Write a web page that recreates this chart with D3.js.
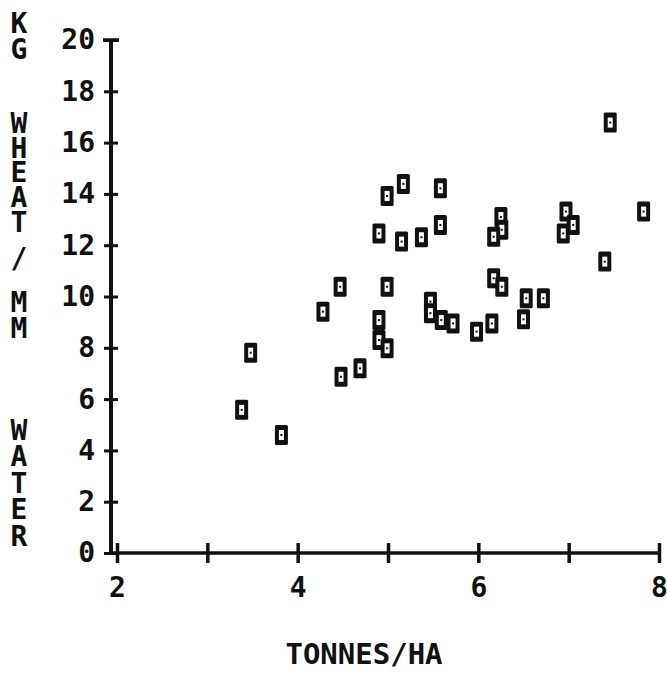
<!DOCTYPE html>
<html>
<head>
<meta charset="utf-8">
<script src="https://cdn.jsdelivr.net/npm/d3@7"></script>
<style>
  body { margin: 0; background: #fff; }
  text { font-family: "DejaVu Sans Mono", monospace; font-weight: bold; fill: #111; }
  .vtitle { writing-mode: vertical-rl; text-orientation: upright; }
</style>
</head>
<body>
<div id="chart"></div>
<script>
// tonnes/ha vs kg wheat / mm water
var xValues = [4.99, 5.17, 5.58, 4.90, 5.15, 5.37, 5.58, 4.47, 4.99, 4.28,
               5.47, 5.47, 5.59, 5.72, 4.90, 4.90, 4.99, 3.48, 4.69, 4.48,
               3.38, 3.82, 7.46, 6.25, 6.26, 6.17, 6.97, 7.05, 6.94, 7.83,
               7.40, 6.17, 6.26, 6.53, 6.72, 6.50, 6.15, 5.98];
var yValues = [13.92, 14.39, 14.22, 12.46, 12.14, 12.31, 12.79, 10.38, 10.38, 9.41,
               9.80, 9.35, 9.08, 8.95, 9.08, 8.30, 7.98, 7.81, 7.20, 6.87,
               5.58, 4.60, 16.78, 13.10, 12.60, 12.33, 13.31, 12.79, 12.46, 13.31,
               11.36, 10.71, 10.38, 9.93, 9.93, 9.11, 8.95, 8.63];
var xTicks = [2, 3, 4, 5, 6, 7, 8];
var xTickLabels = ["2", "", "4", "", "6", "", "8"];
var yTicks = [0, 2, 4, 6, 8, 10, 12, 14, 16, 18, 20];
// y title pieces: "KG  WHEAT/MM  WATER", stacked
var yTitleParts = ["KG", "WHEAT", "/", "MM", "WATER"];
var yTitleFirst = [21, 121, 256, 300, 428]; // centre of first letter
var yTitlePitch = [26, 24.3, 26, 26, 26];
var xTitle = "TONNES/HA";

var W = 667, H = 678;
var svg = d3.select("#chart").append("svg")
    .attr("width", W)
    .attr("height", H);

var x = d3.scaleLinear().domain([2, 8]).range([117, 659]);
var y = d3.scaleLinear().domain([0, 20]).range([553, 40]);
var axisX = 111; // where the vertical axis sits

// x axis
var gx = svg.append("g")
    .attr("transform", "translate(0," + y(0) + ")")
    .call(d3.axisBottom(x).tickValues(xTicks)
        .tickFormat(function(d, i) { return xTickLabels[i]; })
        .tickSize(10).tickPadding(14));
gx.select(".domain").remove();
gx.selectAll(".tick line")
    .attr("y1", -10).attr("y2", 10)
    .attr("stroke", "#111").attr("stroke-width", 3.5);
gx.selectAll(".tick text")
    .attr("font-size", 28).attr("fill", "#111")
    .style("font-family", "DejaVu Sans Mono").style("font-weight", "bold");

svg.append("line")
    .attr("x1", axisX).attr("x2", x(8))
    .attr("y1", y(0)).attr("y2", y(0))
    .attr("stroke", "#111").attr("stroke-width", 3.5);

// y axis
var gy = svg.append("g")
    .attr("transform", "translate(" + axisX + ",0)")
    .call(d3.axisLeft(y).tickValues(yTicks).tickSize(7).tickPadding(9));
gy.select(".domain").remove();
gy.selectAll(".tick line")
    .attr("x1", -7).attr("x2", 7)
    .attr("stroke", "#111").attr("stroke-width", 3);
gy.selectAll(".tick text")
    .attr("font-size", 28).attr("fill", "#111")
    .style("font-family", "DejaVu Sans Mono").style("font-weight", "bold");

svg.append("line")
    .attr("x1", axisX).attr("x2", axisX)
    .attr("y1", y(20)).attr("y2", y(0) + 2)
    .attr("stroke", "#111").attr("stroke-width", 4);
// cap at the top
svg.append("line")
    .attr("x1", axisX - 8).attr("x2", axisX + 8)
    .attr("y1", y(20)).attr("y2", y(20))
    .attr("stroke", "#111").attr("stroke-width", 3.5);

// axis titles
svg.append("text")
    .attr("x", 364).attr("y", 664)
    .attr("text-anchor", "middle")
    .attr("font-size", 29)
    .text(xTitle);

// vertical title, letters stacked upright
// natural vertical advance of the font at 28px is about 32.6px
svg.append("g").selectAll("text")
    .data(yTitleParts)
    .enter().append("text")
    .attr("class", "vtitle")
    .attr("x", 19)
    .attr("y", function(d, i) { return yTitleFirst[i] - 14; })
    .attr("font-size", 28)
    .style("letter-spacing", function(d, i) { return (yTitlePitch[i] - 32.6) + "px"; })
    .text(function(d) { return d; });

// points: thick boxes with a dot in the middle
var pts = svg.append("g").selectAll("g")
    .data(xValues.map(function(v, i) { return [v, yValues[i]]; }))
    .enter().append("g")
    .attr("transform", function(d) { return "translate(" + x(d[0]) + "," + y(d[1]) + ")"; });

pts.append("rect")
    .attr("x", -6.5).attr("y", -10)
    .attr("width", 13).attr("height", 20)
    .attr("rx", 1.5)
    .attr("fill", "#111");
pts.append("rect")
    .attr("x", -2.5).attr("y", -5)
    .attr("width", 5).attr("height", 10)
    .attr("fill", "#fff");
pts.append("rect")
    .attr("x", -1).attr("y", -1)
    .attr("width", 2).attr("height", 2)
    .attr("fill", "#111");
</script>
</body>
</html>
